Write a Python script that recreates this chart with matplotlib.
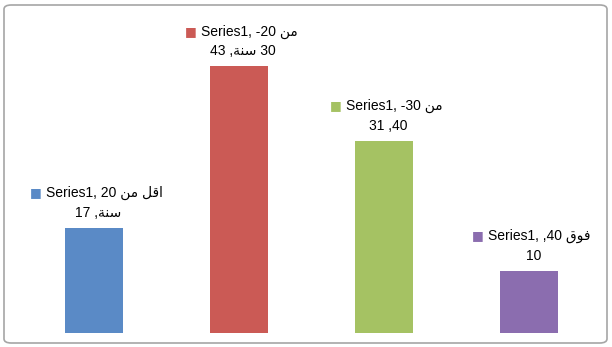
import matplotlib
matplotlib.use("Agg")
import matplotlib.pyplot as plt
from matplotlib.patches import FancyBboxPatch

# Arabic words written in visual order with presentation forms
# (matplotlib has no right-to-left shaping)
MIN = "\uFEE6\uFEE3"            # من
AQAL = "\uFEDE\uFED7\uFE8D"     # اقل
SANA = "\uFE94\uFEE8\uFEB3"     # سنة
FAWQ = "\uFED5\uFEEE\uFED3"     # فوق

categories = ["اقل من 20 سنة", "من 20- 30 سنة", "من 30- 40", "فوق 40"]
values = [17, 43, 31, 10]
colors = ["#5A8AC6", "#CB5A55", "#A5C263", "#8B6DAF"]
# data labels as they appear on screen (bidi already applied)
label_lines = [
    ("Series1, 20 " + MIN + " " + AQAL, "17 ," + SANA),
    ("Series1, -20 " + MIN, "43 ," + SANA + " 30"),
    ("Series1, -30 " + MIN, "31 ,40"),
    ("Series1, ,40 " + FAWQ, "10"),
]

W, H = 612, 347
fig = plt.figure(figsize=(W / 100, H / 100), dpi=100)

# rounded chart border
border = FancyBboxPatch((4 / W, 4 / H), 603 / W, 338 / H,
                        boxstyle="round,pad=0,rounding_size=0.012",
                        transform=fig.transFigure, facecolor="none",
                        edgecolor="#A6A6A6", linewidth=1.2, zorder=-1)
fig.patches.append(border)

x0, x1 = 21.5, 602
y_base, y_top = 333, 23
ax = fig.add_axes([x0 / W, 1 - y_base / H, (x1 - x0) / W, (y_base - y_top) / H])
ax.set_facecolor("none")
xs = list(range(len(values)))
ax.bar(xs, values, width=0.4, color=colors)
ax.set_xlim(-0.5, 3.5)
ax.set_ylim(0, 50)
ax.axis("off")

fam = ["Liberation Sans", "DejaVu Sans"]
fs = 10
firsts = []
for i, (v, (l1, l2)) in enumerate(zip(values, label_lines)):
    # second line just above the bar, first line above that
    ax.annotate(l2, (i, v), xytext=(4, 15), textcoords="offset pixels",
                ha="center", va="center", fontsize=fs, family=fam)
    t1 = ax.annotate(l1, (i, v), xytext=(10, 35), textcoords="offset pixels",
                     ha="center", va="center", fontsize=fs, family=fam)
    firsts.append(t1)

fig.canvas.draw()
r = fig.canvas.get_renderer()
for i, t in enumerate(firsts):
    bb = t.get_window_extent(r)
    cy = (bb.y0 + bb.y1) / 2
    fig.text((bb.x0 - 10) / W, cy / H, "■", color=colors[i], fontsize=9,
             ha="center", va="center", family="DejaVu Sans")

fig.savefig("out.png", dpi=100)
